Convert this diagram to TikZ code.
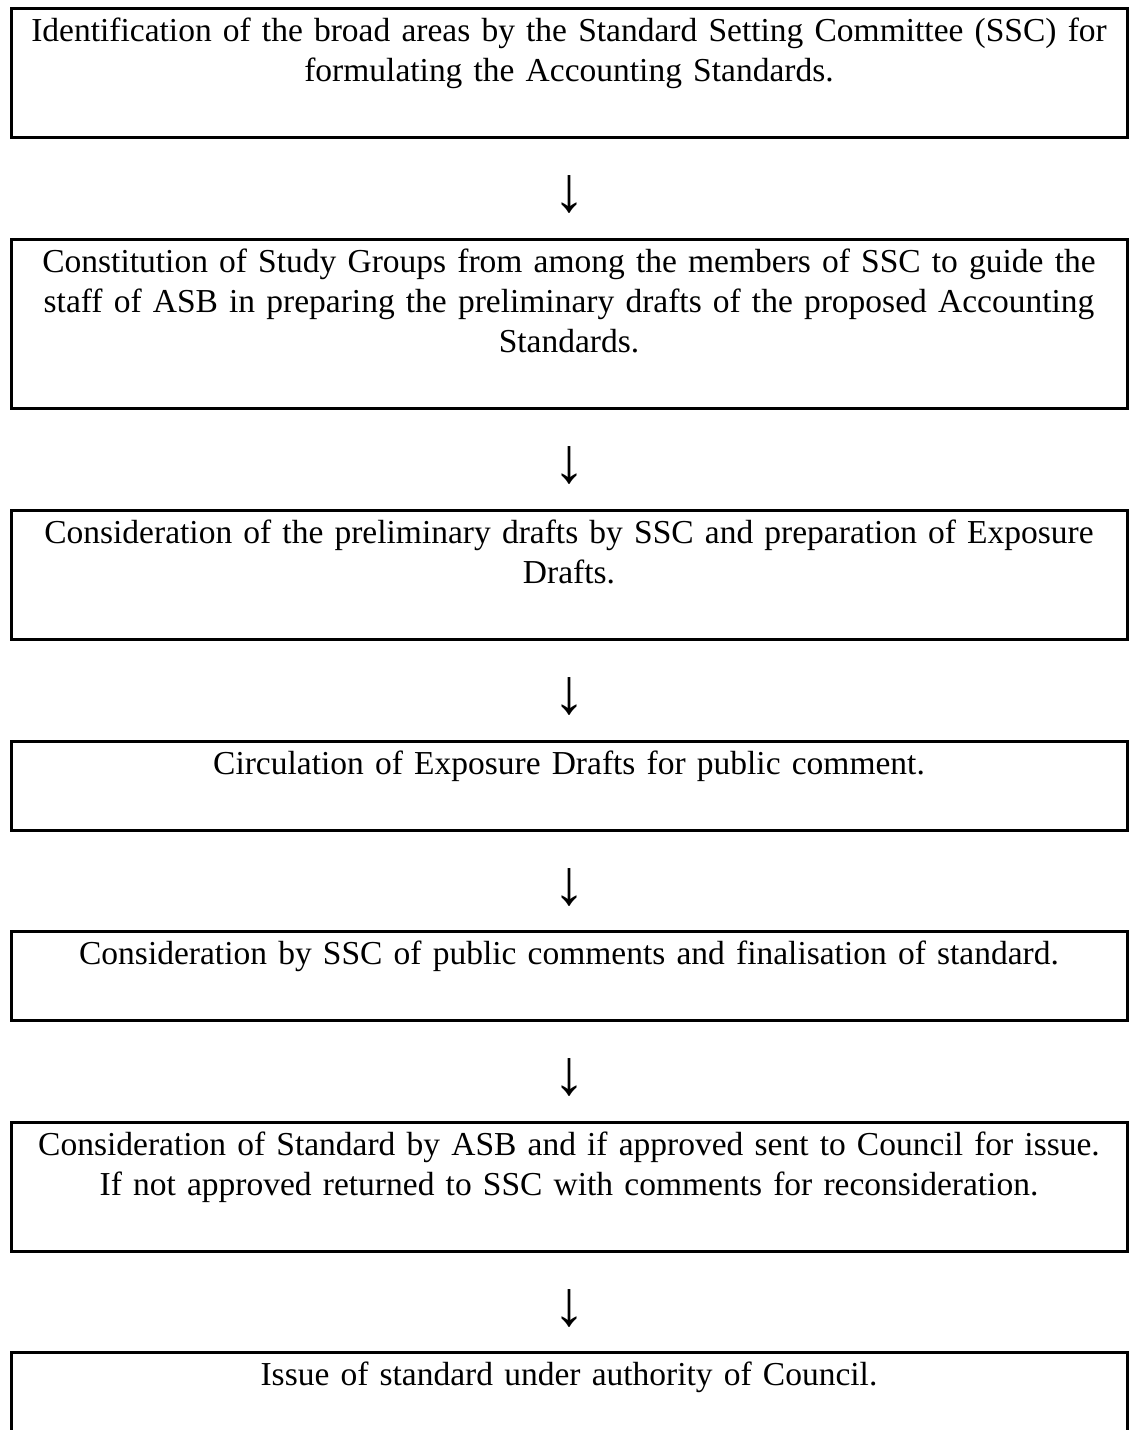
\documentclass[tikz,border=0pt]{standalone}
\usepackage{fontspec}
\setmainfont{Liberation Serif}
\usetikzlibrary{arrows,positioning}

\begin{document}
\begin{tikzpicture}[x=1pt, y=-1pt, node distance=36pt,
  stage/.style={draw, line width=3pt, text width=1116pt, inner sep=0pt,
    align=center, anchor=north, font=\fontsize{33.5pt}{40pt}\selectfont,
    text height=32.5pt, text depth=#1},
  flow/.style={inner sep=0pt, font=\fontsize{64pt}{64pt}\selectfont}]

\useasboundingbox (0,0) rectangle (1130,1430);
\clip (0,0) rectangle (1130,1430);

\node[stage=96.5pt] (s1) at (569,7) {Identification of the broad areas by the Standard Setting Committee (SSC) for\\
  formulating the Accounting Standards.};
\node[stage=136.5pt] (s2) at (569,238) {Constitution of Study Groups from among the members of SSC to guide the\\
  staff of ASB in preparing the preliminary drafts of the proposed Accounting\\
  Standards.};
\node[stage=96.5pt] (s3) at (569,509) {Consideration of the preliminary drafts by SSC and preparation of Exposure\\
  Drafts.};
\node[stage=56.5pt] (s4) at (569,740) {Circulation of Exposure Drafts for public comment.};
\node[stage=56.5pt] (s5) at (569,930) {Consideration by SSC of public comments and finalisation of standard.};
\node[stage=96.5pt] (s6) at (569,1121) {Consideration of Standard by ASB and if approved sent to Council for issue.\\
  If not approved returned to SSC with comments for reconsideration.};
\node[stage=56.5pt] (s7) at (569,1351) {Issue of standard under authority of Council.};

% arrows between the stages
\node[flow, below=of s1] (a1) {↓};
\node[flow, below=of s2] (a2) {↓};
\node[flow, below=of s3] (a3) {↓};
\node[flow, below=of s4] (a4) {↓};
\node[flow, below=of s5] (a5) {↓};
\node[flow, below=of s6] (a6) {↓};

\end{tikzpicture}
\end{document}
